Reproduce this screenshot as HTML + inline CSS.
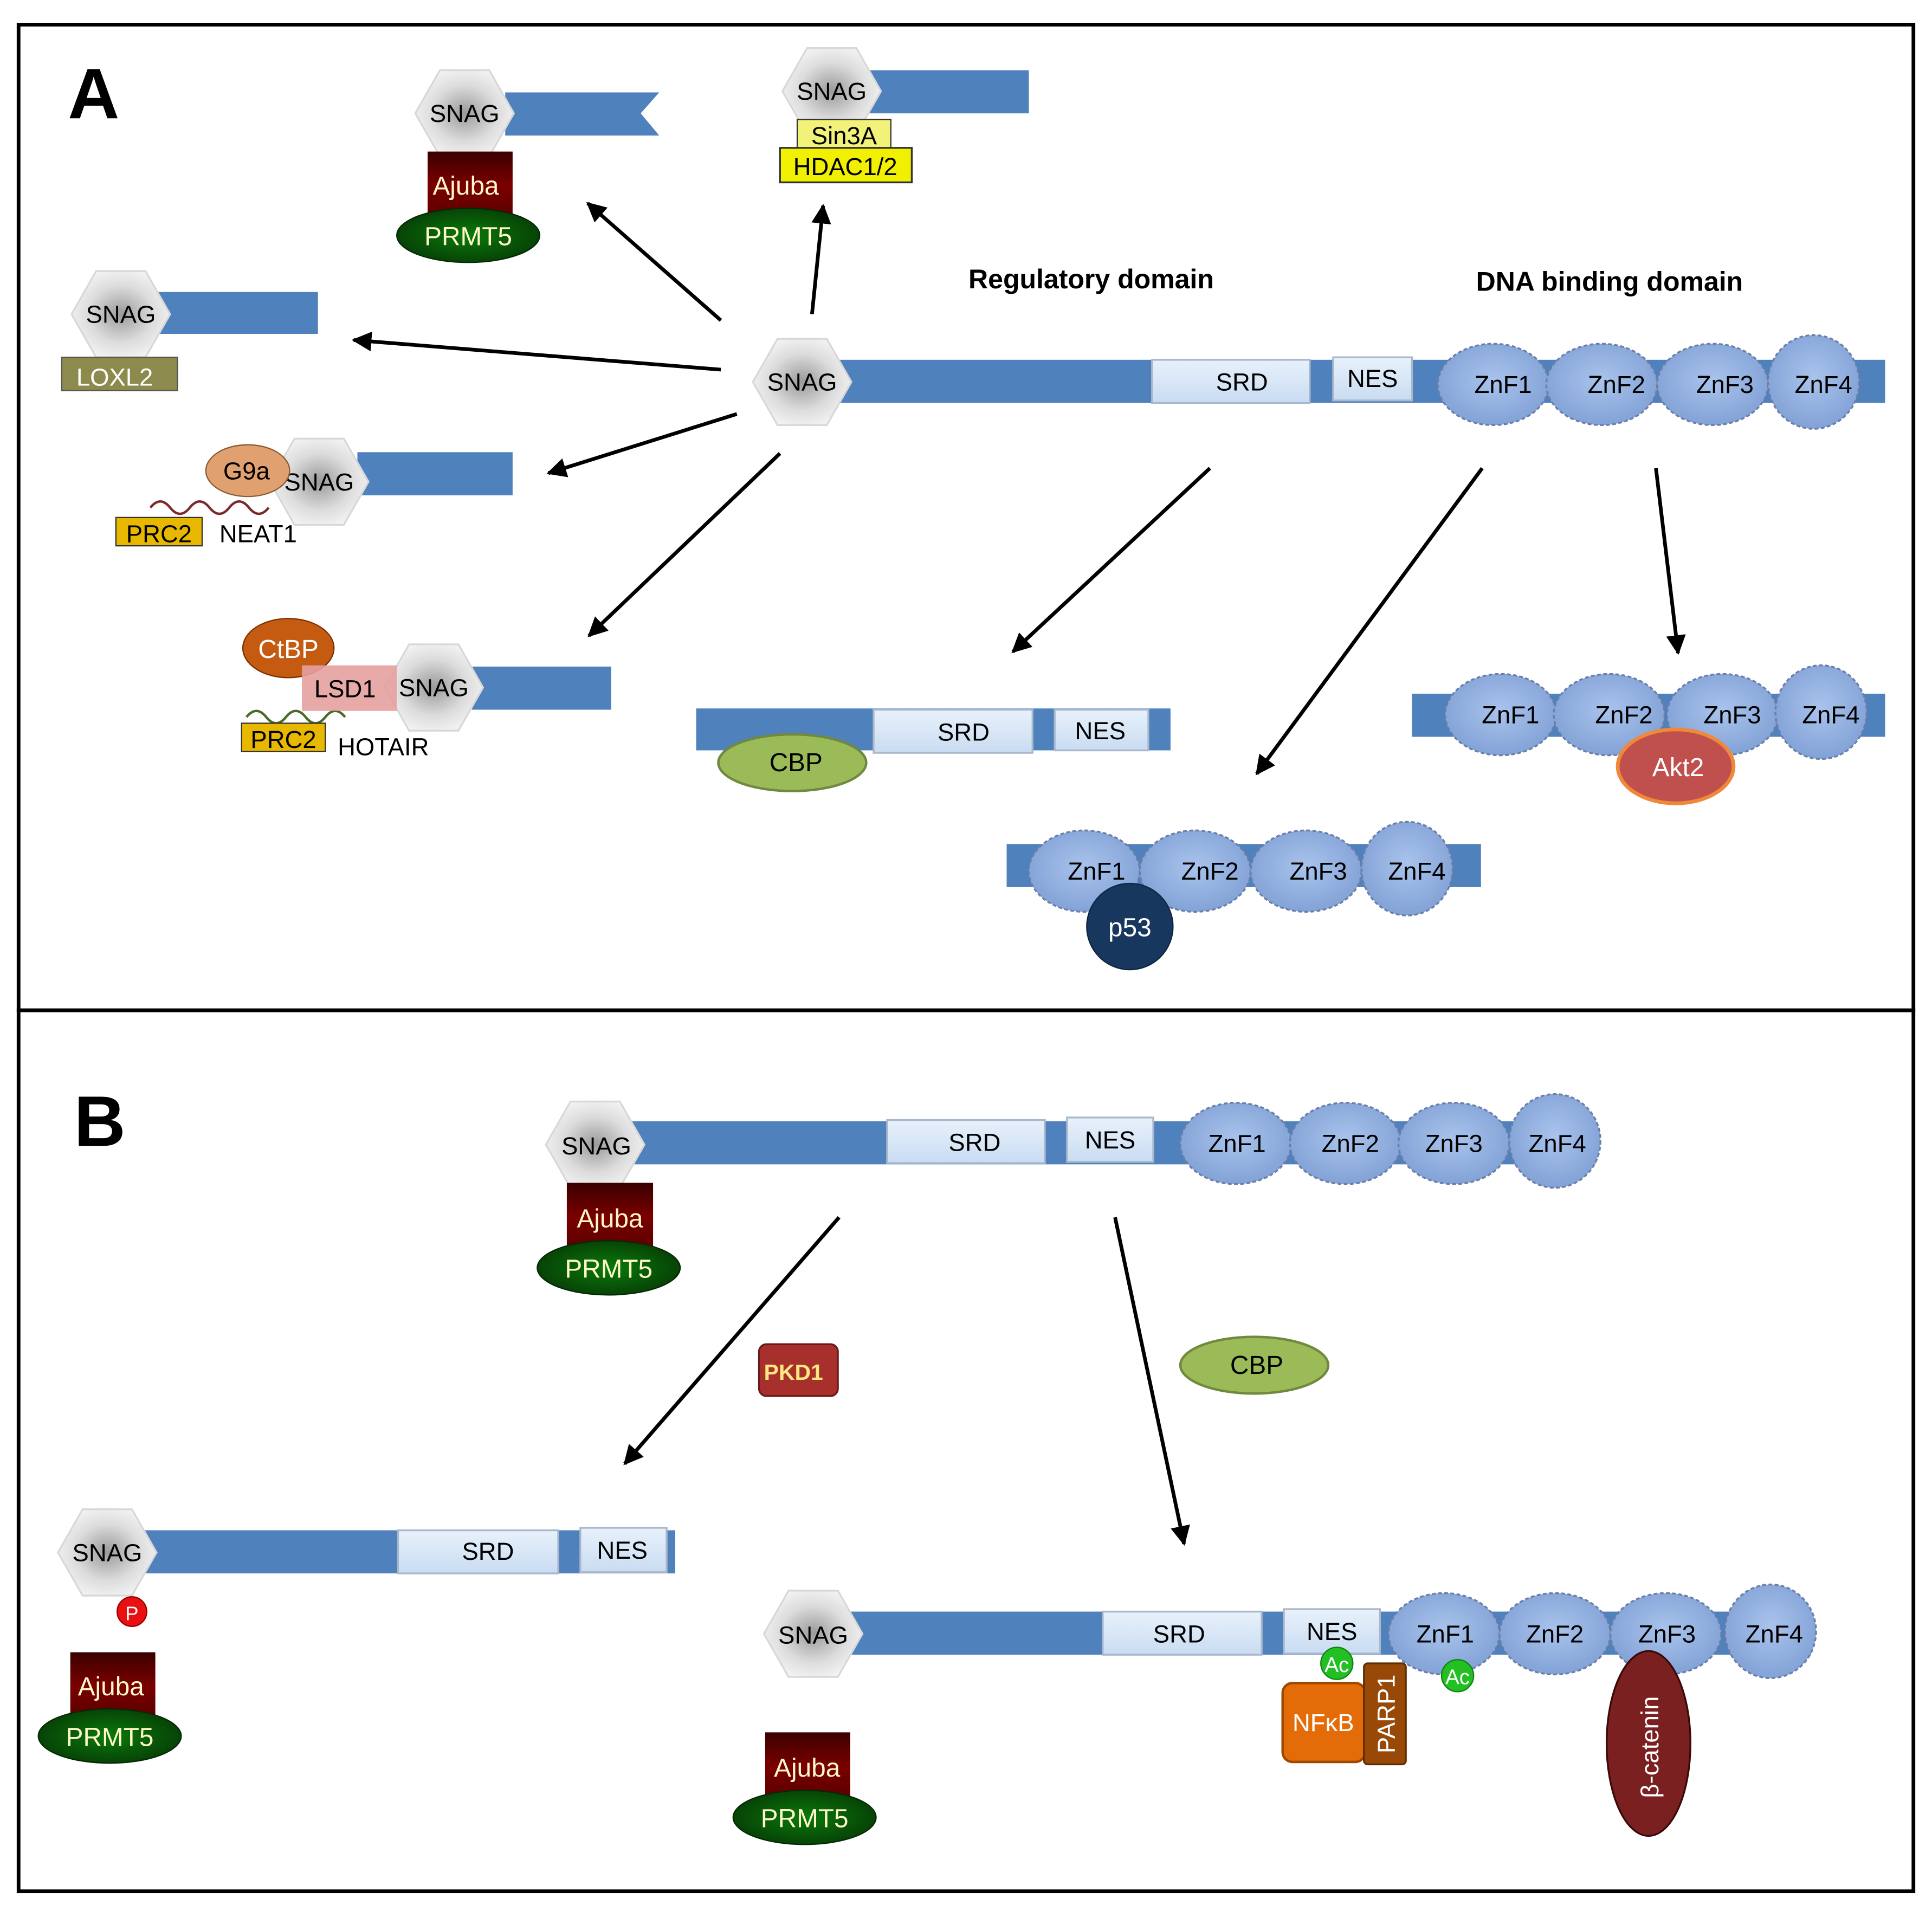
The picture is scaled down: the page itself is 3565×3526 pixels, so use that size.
<!DOCTYPE html>
<html><head><meta charset="utf-8"><style>
html,body{margin:0;padding:0;background:#fff;}
svg{display:block;}
text{font-family:"Liberation Sans",sans-serif;}
</style></head><body>
<svg width="3565" height="3526" viewBox="0 0 1568 1551" xmlns="http://www.w3.org/2000/svg">
<defs>
<radialGradient id="hex" cx="50%" cy="50%" r="55%"><stop offset="0" stop-color="#9a9a9a"/><stop offset="0.6" stop-color="#dcdcdc"/><stop offset="1" stop-color="#f4f4f4"/></radialGradient>
<linearGradient id="aj" x1="0" y1="0" x2="0" y2="1"><stop offset="0" stop-color="#3a0000"/><stop offset="0.5" stop-color="#7a0000"/><stop offset="1" stop-color="#5a0000"/></linearGradient>
<radialGradient id="pr" cx="50%" cy="50%" r="60%"><stop offset="0" stop-color="#0a7a0a"/><stop offset="1" stop-color="#063806"/></radialGradient>
<radialGradient id="zn" cx="50%" cy="45%" r="60%"><stop offset="0" stop-color="#a9c3ec"/><stop offset="1" stop-color="#7f9fd4"/></radialGradient>
<linearGradient id="srd" x1="0" y1="0" x2="0" y2="1"><stop offset="0" stop-color="#e8f1fb"/><stop offset="1" stop-color="#c9dcf2"/></linearGradient>
<marker id="ar" markerWidth="10" markerHeight="10" refX="9" refY="5" orient="auto" markerUnits="userSpaceOnUse"><path d="M0,0 L14,5 L0,10 Z" fill="#000" transform="scale(0.9)"/></marker>
<marker id="a2" viewBox="0 0 10 10" markerWidth="16" markerHeight="16" refX="9" refY="5" orient="auto" markerUnits="userSpaceOnUse"><path d="M0,0 L10,5 L0,10 Z" fill="#000"/></marker>
</defs>
<rect x="15" y="20" width="1538" height="800" fill="none" stroke="#000" stroke-width="3"/>
<rect x="15" y="820" width="1538" height="715" fill="none" stroke="#000" stroke-width="3"/>

<g font-size="20" fill="#000">
<text x="55" y="96" font-size="58" font-weight="bold">A</text>
<text x="60" y="930" font-size="58" font-weight="bold">B</text>
<text x="786" y="234" font-size="22" font-weight="bold">Regulatory domain</text>
<text x="1198" y="236" font-size="22" font-weight="bold">DNA binding domain</text>
</g>

<!-- arrows -->
<g stroke="#000" stroke-width="3" marker-end="url(#a2)">
<line x1="585" y1="260" x2="477" y2="165"/>
<line x1="659" y1="255" x2="668" y2="167"/>
<line x1="585" y1="300" x2="287" y2="276"/>
<line x1="598" y1="336" x2="445" y2="384"/>
<line x1="633" y1="368" x2="478" y2="516"/>
<line x1="982" y1="380" x2="822" y2="529"/>
<line x1="1203" y1="380" x2="1020" y2="628"/>
<line x1="1344" y1="380" x2="1362" y2="530"/>
<line x1="681" y1="988" x2="507" y2="1188"/>
<line x1="905" y1="988" x2="961" y2="1253"/>
</g>

<!-- bars -->
<g fill="#4f81bd">
<rect x="680" y="292" width="850" height="35"/>
<path d="M410,75 L535,75 L520,92 L535,110 L410,110 Z"/>
<rect x="705" y="57" width="130" height="35"/>
<rect x="128" y="237" width="130" height="34"/>
<rect x="290" y="367" width="126" height="35"/>
<rect x="383" y="541" width="113" height="35"/>
<rect x="565" y="575" width="385" height="34"/>
<rect x="1146" y="563" width="384" height="35"/>
<rect x="817" y="685" width="385" height="35"/>
<rect x="513" y="910" width="782" height="35"/>
<rect x="117" y="1242" width="431" height="35"/>
<rect x="690" y="1308" width="780" height="35"/>
</g>

<!-- SRD / NES boxes -->
<g fill="url(#srd)" stroke="#aab8cc" stroke-width="1.5">
<rect x="935" y="292" width="128" height="35"/><rect x="1082" y="290" width="64" height="35"/>
<rect x="709" y="576" width="129" height="35"/><rect x="856" y="576" width="76" height="33"/>
<rect x="720" y="909" width="128" height="35"/><rect x="866" y="907" width="70" height="36"/>
<rect x="323" y="1242" width="130" height="35"/><rect x="471" y="1240" width="70" height="36"/>
<rect x="895" y="1308" width="129" height="35"/><rect x="1042" y="1306" width="78" height="36"/>
</g>
<g font-size="20" text-anchor="middle">
<text x="1008" y="317">SRD</text><text x="1114" y="314">NES</text>
<text x="782" y="601">SRD</text><text x="893" y="600">NES</text>
<text x="791" y="934">SRD</text><text x="901" y="932">NES</text>
<text x="396" y="1266">SRD</text><text x="505" y="1265">NES</text>
<text x="957" y="1333">SRD</text><text x="1081" y="1331">NES</text>
</g>

<!-- ZnF -->
<g fill="url(#zn)" stroke="#6a7ea8" stroke-width="1.5" stroke-dasharray="3,2">
<ellipse cx="1212" cy="312" rx="45" ry="33"/><ellipse cx="1300" cy="312" rx="45" ry="33"/><ellipse cx="1390" cy="312" rx="45" ry="33"/><ellipse cx="1472" cy="310" rx="37" ry="38"/>
<ellipse cx="1218" cy="580" rx="45" ry="33"/><ellipse cx="1306" cy="580" rx="45" ry="33"/><ellipse cx="1398" cy="580" rx="45" ry="33"/><ellipse cx="1478" cy="578" rx="37" ry="38"/>
<ellipse cx="880" cy="707" rx="45" ry="33"/><ellipse cx="970" cy="707" rx="45" ry="33"/><ellipse cx="1060" cy="707" rx="45" ry="33"/><ellipse cx="1142" cy="705" rx="37" ry="38"/>
<ellipse cx="1003" cy="928" rx="45" ry="33"/><ellipse cx="1092" cy="928" rx="45" ry="33"/><ellipse cx="1180" cy="928" rx="45" ry="33"/><ellipse cx="1262" cy="926" rx="37" ry="38"/>
<ellipse cx="1172" cy="1326" rx="45" ry="33"/><ellipse cx="1262" cy="1326" rx="45" ry="33"/><ellipse cx="1352" cy="1326" rx="45" ry="33"/><ellipse cx="1437" cy="1324" rx="37" ry="38"/>
</g>
<g font-size="20" text-anchor="middle">
<text x="1220" y="319">ZnF1</text><text x="1312" y="319">ZnF2</text><text x="1400" y="319">ZnF3</text><text x="1480" y="319">ZnF4</text>
<text x="1226" y="587">ZnF1</text><text x="1318" y="587">ZnF2</text><text x="1406" y="587">ZnF3</text><text x="1486" y="587">ZnF4</text>
<text x="890" y="714">ZnF1</text><text x="982" y="714">ZnF2</text><text x="1070" y="714">ZnF3</text><text x="1150" y="714">ZnF4</text>
<text x="1004" y="935">ZnF1</text><text x="1096" y="935">ZnF2</text><text x="1180" y="935">ZnF3</text><text x="1264" y="935">ZnF4</text>
<text x="1173" y="1333">ZnF1</text><text x="1262" y="1333">ZnF2</text><text x="1353" y="1333">ZnF3</text><text x="1440" y="1333">ZnF4</text>
</g>

<!-- SNAG hexagons -->
<g fill="url(#hex)" stroke="#d8d8d8" stroke-width="1.5">
<polygon points="611,310 631,275 671,275 691,310 671,345 631,345"/>
<polygon points="337,92 357,57 397,57 417,92 397,127 357,127"/>
<polygon points="635,74 655,39 695,39 715,74 695,109 655,109"/>
<polygon points="58,255 78,220 118,220 138,255 118,290 78,290"/>
<polygon points="219,391 239,356 279,356 299,391 279,426 239,426"/>
<polygon points="312,558 332,523 372,523 392,558 372,593 332,593"/>
<polygon points="443,929 463,894 503,894 523,929 503,964 463,964"/>
<polygon points="47,1260 67,1225 107,1225 127,1260 107,1295 67,1295"/>
<polygon points="620,1326 640,1291 680,1291 700,1326 680,1361 640,1361"/>
</g>
<g font-size="20" text-anchor="middle">
<text x="651" y="317">SNAG</text><text x="377" y="99">SNAG</text><text x="675" y="81">SNAG</text>
<text x="98" y="262">SNAG</text><text x="259" y="398">SNAG</text><text x="352" y="565">SNAG</text>
<text x="484" y="937">SNAG</text><text x="87" y="1267">SNAG</text><text x="660" y="1334">SNAG</text>
</g>

<!-- Ajuba/PRMT5 -->
<g fill="url(#aj)">
<rect x="347" y="123" width="69" height="55"/>
<rect x="460" y="960" width="70" height="55"/>
<rect x="57" y="1341" width="69" height="54"/>
<rect x="621" y="1406" width="69" height="55"/>
</g>
<g fill="url(#pr)" stroke="#042804" stroke-width="1">
<ellipse cx="380" cy="191" rx="58" ry="22"/>
<ellipse cx="494" cy="1029" rx="58" ry="22"/>
<ellipse cx="89" cy="1409" rx="58" ry="22"/>
<ellipse cx="653" cy="1475" rx="58" ry="22"/>
</g>
<g font-size="21" text-anchor="middle" fill="#fff7c8">
<text x="378" y="158">Ajuba</text><text x="380" y="199">PRMT5</text>
<text x="495" y="996">Ajuba</text><text x="494" y="1037">PRMT5</text>
<text x="90" y="1376">Ajuba</text><text x="89" y="1417">PRMT5</text>
<text x="655" y="1442">Ajuba</text><text x="653" y="1483">PRMT5</text>
</g>

<!-- Sin3A / HDAC -->
<rect x="647" y="97" width="76" height="23" fill="#f2f27a" stroke="#333" stroke-width="1"/>
<rect x="633" y="120" width="107" height="28" fill="#f0f000" stroke="#333" stroke-width="1.5"/>
<text x="685" y="117" font-size="20" text-anchor="middle">Sin3A</text>
<text x="686" y="142" font-size="20" text-anchor="middle">HDAC1/2</text>

<!-- LOXL2 -->
<rect x="50" y="290" width="94" height="27" fill="#8c8a4c" stroke="#555" stroke-width="1"/>
<text x="93" y="313" font-size="20" text-anchor="middle" fill="#fff">LOXL2</text>

<!-- G9a / NEAT1 -->
<path d="M122,412 q8,-10 16,0 t16,0 t16,0 t16,0 t16,0 t16,0" fill="none" stroke="#7a2a2a" stroke-width="2"/>
<ellipse cx="201" cy="382" rx="34" ry="21" fill="#e0a070" stroke="#8a5a30" stroke-width="1"/>
<text x="200" y="389" font-size="20" text-anchor="middle">G9a</text>
<rect x="94" y="420" width="70" height="23" fill="#e8b800" stroke="#333" stroke-width="1"/>
<text x="129" y="440" font-size="20" text-anchor="middle">PRC2</text>
<text x="178" y="440" font-size="20">NEAT1</text>

<!-- CtBP / LSD1 / HOTAIR -->
<path d="M200,582 q8,-10 16,0 t16,0 t16,0 t16,0 t16,0" fill="none" stroke="#4a6a2a" stroke-width="2"/>
<ellipse cx="234" cy="526" rx="37" ry="24" fill="#c55a11" stroke="#7a3000" stroke-width="1"/>
<text x="234" y="534" font-size="21" text-anchor="middle" fill="#fff">CtBP</text>
<rect x="245" y="540" width="77" height="37" fill="#e6a0a0" opacity="0.9"/>
<text x="280" y="566" font-size="20" text-anchor="middle">LSD1</text>
<rect x="196" y="587" width="68" height="23" fill="#e8b800" stroke="#333" stroke-width="1"/>
<text x="230" y="607" font-size="20" text-anchor="middle">PRC2</text>
<text x="274" y="613" font-size="20">HOTAIR</text>

<!-- CBP -->
<ellipse cx="643" cy="619" rx="60" ry="23" fill="#9bbb59" stroke="#71893f" stroke-width="2"/>
<text x="646" y="626" font-size="21" text-anchor="middle">CBP</text>
<ellipse cx="1018" cy="1108" rx="60" ry="23" fill="#9bbb59" stroke="#71893f" stroke-width="2"/>
<text x="1020" y="1115" font-size="21" text-anchor="middle">CBP</text>

<!-- Akt2 -->
<ellipse cx="1360" cy="622" rx="47" ry="30" fill="#c0504d" stroke="#f0883a" stroke-width="3"/>
<text x="1362" y="630" font-size="21" text-anchor="middle" fill="#fff">Akt2</text>

<!-- p53 -->
<circle cx="917" cy="752" r="35" fill="#17375e" stroke="#0e2440" stroke-width="1"/>
<text x="917" y="760" font-size="21" text-anchor="middle" fill="#fff">p53</text>

<!-- PKD1 -->
<rect x="616" y="1091" width="64" height="42" rx="6" fill="#a8302c" stroke="#6a1a1a" stroke-width="1.5"/>
<text x="644" y="1120" font-size="18" font-weight="bold" text-anchor="middle" fill="#ffe880">PKD1</text>

<!-- P -->
<circle cx="107" cy="1308" r="12" fill="#e81010" stroke="#900" stroke-width="1"/>
<text x="107" y="1315" font-size="16" text-anchor="middle" fill="#fff">P</text>

<!-- NFkB / PARP1 / Ac / beta-catenin -->
<rect x="1041" y="1366" width="67" height="64" rx="8" fill="#e36c09" stroke="#a04800" stroke-width="2"/>
<text x="1074" y="1405" font-size="20" text-anchor="middle" fill="#fff">NFκB</text>
<rect x="1107" y="1350" width="34" height="82" rx="3" fill="#984807" stroke="#602e00" stroke-width="1.5"/>
<text transform="translate(1132,1391) rotate(-90)" font-size="20" text-anchor="middle" fill="#fff">PARP1</text>
<circle cx="1085" cy="1350" r="13" fill="#22c022" stroke="#108010" stroke-width="1"/>
<text x="1085" y="1357" font-size="17" text-anchor="middle" fill="#fff">Ac</text>
<circle cx="1183" cy="1360" r="13" fill="#22c022" stroke="#108010" stroke-width="1"/>
<text x="1183" y="1367" font-size="17" text-anchor="middle" fill="#fff">Ac</text>
<ellipse cx="1338" cy="1415" rx="34" ry="75" fill="#7b2020" stroke="#3a0a0a" stroke-width="1.5"/>
<text transform="translate(1346,1418) rotate(-90)" font-size="20" text-anchor="middle" fill="#fff">β-catenin</text>
</svg>
</body></html>
